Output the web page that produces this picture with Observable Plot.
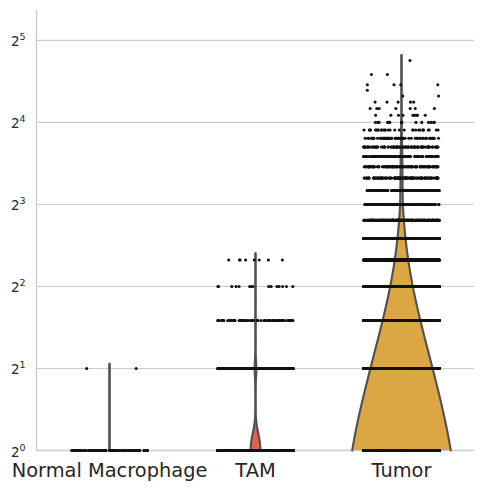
<!DOCTYPE html>
<html>
<head>
<meta charset="utf-8">
<script src="https://cdn.jsdelivr.net/npm/d3@7"></script>
<script src="https://cdn.jsdelivr.net/npm/@observablehq/plot@0.6"></script>
<style>
  html, body { margin: 0; padding: 0; background: #fff; }
</style>
</head>
<body>
<div id="chart"></div>
<script>
// Groups on the x axis
const categories = ["Normal Macrophage", "TAM", "Tumor"];
const fillColors = ["#8c9fc8", "#e4604e", "#dda645"];

// Number of cells at each integer value (array index = value)
const normalCounts = [0, 90, 2];
const tamCounts = [0, 1830, 320, 70, 15, 8];
const tumorCounts = [9920, 6400, 3940, 2380, 1420, 850, 510, 300, 165, 150, 130, 120, 110, 90,
                     60, 30, 14, 10, 7, 5, 2, 1, 4, 0, 2, 0, 0, 1];

// Kernel bandwidth of each violin (in value units)
const bandwidths = [0.04, 0.145, 0.65];

// y axis ticks: 2^0 … 2^5
const yTickValues = [1, 2, 4, 8, 16, 32];
const yTickExponents = ["0", "1", "2", "3", "4", "5"];
const yMax = 41.2;

const seriesCounts = [normalCounts, tamCounts, tumorCounts];
const totals = seriesCounts.map(c => d3.sum(c));
const nMax = d3.max(totals);

// Gaussian kernel density (unnormalised) of integer-valued counts
function kde(counts, h, vs) {
  return vs.map(v => {
    let s = 0;
    counts.forEach((c, k) => {
      if (c > 0) { const z = (v - k) / h; s += c * Math.exp(-0.5 * z * z); }
    });
    return s;
  });
}

// Violin outlines: width scaled by each group's cell count
const violinRows = [];
seriesCounts.forEach((counts, i) => {
  const h = bandwidths[i];
  const vals = counts.map((c, k) => (c > 0 ? k : null)).filter(k => k !== null);
  const lo = d3.min(vals) - 2 * h, hi = d3.max(vals) + 2 * h;
  const full = d3.range(1200).map(j => lo + (hi - lo) * j / 1199);
  const fmax = d3.max(kde(counts, h, full));
  const a = Math.log2(Math.max(1, lo)), b = Math.log2(hi);
  const grid = d3.range(600).map(j => 2 ** (a + (b - a) * j / 599));
  const dens = kde(counts, h, grid);
  grid.forEach((v, j) => {
    const w = 0.4 * (dens[j] / fmax) * (totals[i] / nMax);
    violinRows.push({cat: categories[i], i, v, left: i - w, right: i + w});
  });
});

// Seeded generator (mulberry32) for a reproducible horizontal jitter
function seeded(seed) {
  let a = seed | 0;
  return () => {
    a = (a + 0x6D2B79F5) | 0;
    let t = Math.imul(a ^ (a >>> 15), 1 | a);
    t = (t + Math.imul(t ^ (t >>> 7), 61 | t)) ^ t;
    return ((t ^ (t >>> 14)) >>> 0) / 4294967296;
  };
}

// Strip points
const points = [];
seriesCounts.forEach((counts, i) => counts.forEach((c, k) => {
  if (k < 1) return; // values below 1 fall outside the log axis
  const next = seeded(1000 * i + k + 7);
  for (let j = 0; j < c; j++) {
    points.push({x: i + (next() * 2 - 1) * 0.26, y: k});
  }
}));

const violinMarks = categories.flatMap((cat, i) => {
  const rows = violinRows.filter(d => d.i === i);
  return [
    Plot.areaX(rows, {y: "v", x1: "left", x2: "right", fill: fillColors[i], curve: "linear"}),
    Plot.line(rows, {x: "left", y: "v", stroke: "#505050", strokeWidth: 2.1}),
    Plot.line(rows, {x: "right", y: "v", stroke: "#505050", strokeWidth: 2.1})
  ];
});

const chart = Plot.plot({
  width: 483,
  height: 491,
  marginLeft: 36,
  marginRight: 9,
  marginTop: 10,
  marginBottom: 41,
  style: {fontFamily: "'DejaVu Sans', sans-serif", color: "#262626", background: "#ffffff"},
  x: {domain: [-0.5, 2.5]},
  y: {type: "log", domain: [1, yMax], axis: null},
  marks: [
    Plot.ruleY(yTickValues.slice(1), {stroke: "#cccccc", strokeWidth: 1.1}),
    Plot.ruleY([1], {stroke: "#cccccc", strokeWidth: 1.4}),
    Plot.ruleX([-0.5], {stroke: "#cccccc", strokeWidth: 1.4}),
    ...violinMarks,
    Plot.dot(points, {x: "x", y: "y", r: 1.55, fill: "#111111", stroke: null}),
    Plot.text(yTickValues, {x: -0.5, y: d => d, text: () => "2", fontSize: 13.5,
      textAnchor: "start", lineAnchor: "bottom", dx: -25.6, dy: 6, fill: "#262626"}),
    Plot.text(yTickValues, {x: -0.5, y: d => d, text: (d, i) => yTickExponents[i], fontSize: 9.5,
      textAnchor: "start", lineAnchor: "bottom", dx: -16.9, dy: 0, fill: "#262626"}),
    Plot.axisX([0, 1, 2], {tickFormat: i => categories[i], tickSize: 0, tickPadding: 12.5,
      fontSize: 19.4, label: null})
  ]
});

document.getElementById("chart").appendChild(chart);
</script>
</body>
</html>
